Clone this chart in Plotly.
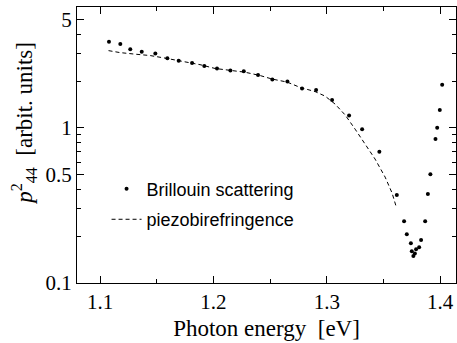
import plotly.graph_objects as go

# Brillouin scattering measurements (photon energy in eV, p44^2 in arbitrary units)
brillouin_energy = [1.1079, 1.1179, 1.1267, 1.1368, 1.1488, 1.1594, 1.1694, 1.1812,
                    1.1920, 1.2032, 1.2150, 1.2268, 1.2394, 1.2520, 1.2653, 1.2782,
                    1.2906, 1.3047, 1.3197, 1.3312, 1.3464, 1.3618, 1.3682, 1.3706,
                    1.3742, 1.3750, 1.3764, 1.3777, 1.3788, 1.3815, 1.3832, 1.3868,
                    1.3892, 1.3914, 1.3959, 1.3974, 1.3997, 1.4018]
brillouin_p44 = [3.58, 3.46, 3.20, 3.09, 3.01, 2.80, 2.70, 2.61,
                 2.50, 2.41, 2.34, 2.31, 2.19, 2.05, 1.99, 1.79,
                 1.75, 1.51, 1.20, 0.98, 0.70, 0.369, 0.250, 0.206,
                 0.180, 0.160, 0.149, 0.155, 0.165, 0.170, 0.189, 0.250,
                 0.374, 0.501, 0.846, 1.00, 1.30, 1.89]

# Piezobirefringence curve
piezo_energy = [1.1075, 1.1176, 1.1309, 1.1441, 1.1574, 1.1750, 1.1882, 1.2015,
                1.2147, 1.2279, 1.2412, 1.2518, 1.2650, 1.2765, 1.2897, 1.2985,
                1.3074, 1.3162, 1.3250, 1.3338, 1.3426, 1.3515, 1.3576, 1.3616]
piezo_p44 = [3.14, 3.05, 2.98, 2.92, 2.81, 2.67, 2.55, 2.41,
             2.34, 2.28, 2.17, 2.06, 1.97, 1.82, 1.71, 1.60,
             1.42, 1.21, 0.98, 0.785, 0.629, 0.481, 0.380, 0.304]

x_ticks = [1.1, 1.2, 1.3, 1.4]
x_minor = [1.15, 1.25, 1.35]
y_ticks = [0.1, 0.5, 1, 5]
y_tick_text = ["0.1", "0.5", "1", "5"]
y_minor = [0.2, 0.3, 0.4, 0.6, 0.7, 0.8, 0.9, 2, 3, 4]

serif = "Liberation Serif"
sans = "Liberation Sans"

fig = go.Figure()
fig.add_trace(go.Scatter(
    x=brillouin_energy, y=brillouin_p44, mode="markers",
    marker=dict(color="black", size=4),
    name="Brillouin scattering", legendgroup="a",
))
fig.add_trace(go.Scatter(
    x=piezo_energy, y=piezo_p44, mode="lines",
    line=dict(color="black", width=1, dash="4px,3px"),
    name="piezobirefringence", legendgroup="b",
))

axis_common = dict(
    showline=True, linecolor="black", linewidth=1, mirror="allticks",
    ticks="inside", ticklen=7, tickwidth=1, tickcolor="black",
    showgrid=False, zeroline=False,
    tickfont=dict(family=serif, size=21, color="black"),
)

fig.update_xaxes(
    range=[1.0797, 1.414], tickmode="array", tickvals=x_ticks,
    ticktext=[f"{v:.1f}" for v in x_ticks],
    minor=dict(tickmode="array", tickvals=x_minor, ticks="inside",
               ticklen=4, tickcolor="black", tickwidth=1),
    title=dict(text="Photon energy  [eV]", font=dict(family=serif, size=23, color="black"),
               standoff=6),
    **axis_common,
)
fig.update_yaxes(
    type="log", range=[-1, 0.778], tickmode="array", tickvals=y_ticks,
    ticktext=y_tick_text,
    minor=dict(tickmode="array", tickvals=y_minor, ticks="inside",
               ticklen=4, tickcolor="black", tickwidth=1),
    **axis_common,
)

fig.add_annotation(
    text="<i>p</i><sup>2</sup><sub>44</sub>  [arbit. units]",
    xref="paper", yref="paper", x=-0.14, y=0.58,
    textangle=-90, showarrow=False,
    font=dict(family=serif, size=23, color="black"),
    xanchor="center", yanchor="middle",
)

fig.update_layout(
    width=457, height=343,
    margin=dict(l=77, r=1, t=7, b=60),
    paper_bgcolor="white", plot_bgcolor="white",
    showlegend=True,
    legend=dict(
        x=0.078, y=0.407, xanchor="left", yanchor="top",
        bgcolor="rgba(0,0,0,0)", borderwidth=0,
        font=dict(family=sans, size=18, color="black"),
        tracegroupgap=4,
    ),
)

fig.write_html("out.html")
